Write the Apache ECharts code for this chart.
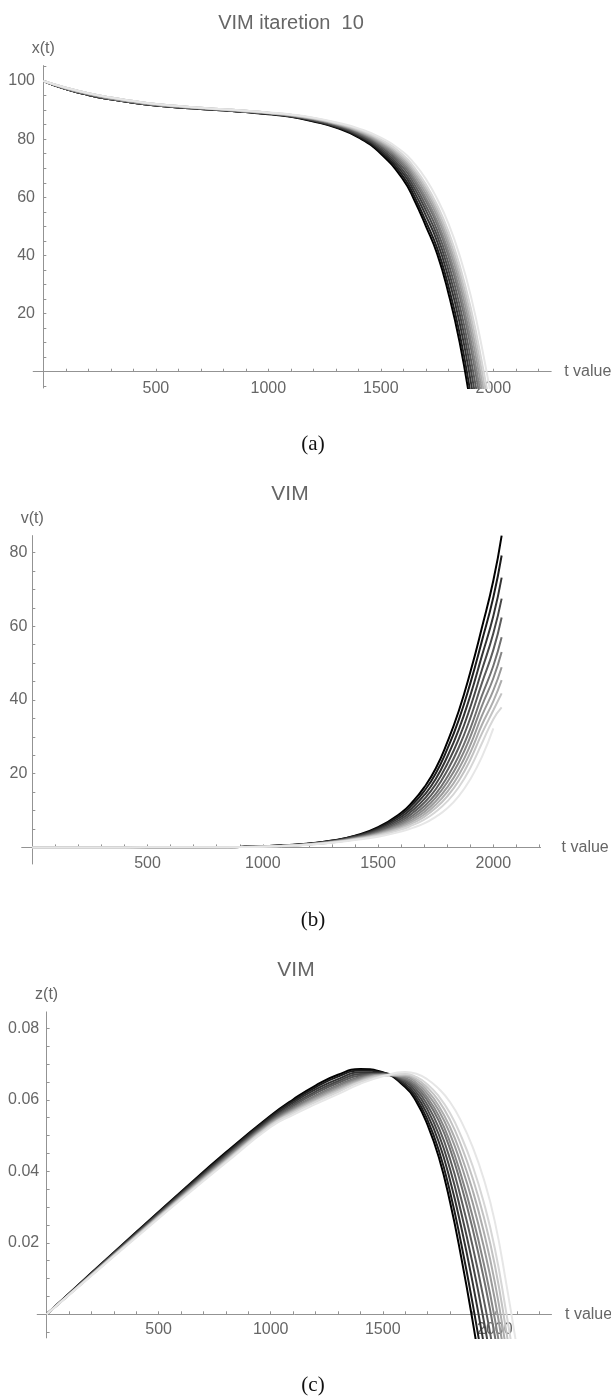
<!DOCTYPE html>
<html>
<head>
<meta charset="utf-8">
<title>VIM</title>
<script src="https://cdn.jsdelivr.net/npm/echarts@6.0.0/dist/echarts.min.js"></script>
<style>
  html, body { margin: 0; padding: 0; background: #fff; }
  #main { width: 611px; height: 1396px; }
</style>
</head>
<body>
<div id="main"></div>
<script>
// ---- (a) x(t) ----
var tA = [0, 100, 200, 300, 400, 500, 600, 700, 800, 900, 1000, 1100, 1200, 1300, 1400, 1500, 1600, 1650, 1700, 1750, 1800, 1850, 1900, 1950, 2000, 2050];
var x1 = [100, 97.2, 95.2, 93.7, 92.5, 91.6, 90.9, 90.4, 89.9, 89.3, 88.6, 87.7, 86.1, 84.0, 80.6, 75.0, 66.0, 58.8, 50.1, 40.6, 27.1, 10.2, -12, -38, -65, -95];
var x2 = [100, 97.2, 95.2, 93.7, 92.5, 91.6, 90.9, 90.4, 89.9, 89.3, 88.7, 87.8, 86.2, 84.2, 80.9, 75.6, 67.0, 60.1, 51.7, 42.5, 29.5, 13.2, -8.2, -33.4, -59.8, -89];
var x3 = [100, 97.2, 95.2, 93.7, 92.5, 91.6, 90.9, 90.4, 89.9, 89.3, 88.7, 87.9, 86.4, 84.4, 81.3, 76.2, 68.1, 61.6, 53.7, 44.8, 32.4, 16.8, -3.6, -27.9, -53.6, -82];
var x4 = [100, 97.2, 95.2, 93.7, 92.5, 91.6, 90.9, 90.4, 89.9, 89.3, 88.8, 88.0, 86.5, 84.6, 81.6, 76.8, 69.1, 63.0, 55.5, 46.8, 35.0, 20.0, 0.5, -22.8, -47.8, -75.5];
var x5 = [100, 97.45, 95.5, 94.0, 92.8, 91.85, 91.15, 90.6, 90.1, 89.55, 88.9, 88.0, 86.7, 84.8, 81.9, 77.4, 70.1, 64.3, 57.1, 48.7, 37.4, 23.0, 4.3, -18.2, -42.6, -69.6];
var x6 = [100, 97.45, 95.5, 94.0, 92.8, 91.85, 91.15, 90.6, 90.1, 89.55, 88.9, 88.1, 86.8, 85.0, 82.2, 77.9, 71.0, 65.5, 58.7, 50.6, 39.8, 26.0, 8.1, -13.6, -37.4, -63.7];
var x7 = [100, 97.45, 95.5, 94.0, 92.8, 91.85, 91.15, 90.6, 90.1, 89.55, 89.0, 88.2, 86.9, 85.1, 82.5, 78.3, 71.7, 66.4, 59.8, 51.9, 41.4, 28.1, 10.8, -10.4, -33.8, -59.6];
var x8 = [100, 97.45, 95.5, 94.0, 92.8, 91.85, 91.15, 90.6, 90.1, 89.55, 89.0, 88.2, 87.0, 85.2, 82.7, 78.7, 72.5, 67.4, 61.1, 53.5, 43.4, 30.5, 13.8, -6.7, -29.6, -54.9];
var x9 = [100, 97.7, 95.8, 94.3, 93.1, 92.1, 91.4, 90.8, 90.3, 89.8, 89.1, 88.3, 87.1, 85.4, 82.9, 79.1, 73.1, 68.3, 62.3, 54.8, 45.0, 32.6, 16.5, -3.5, -26, -50.8];
var x10 = [100, 97.7, 95.8, 94.3, 93.1, 92.1, 91.4, 90.8, 90.3, 89.8, 89.1, 88.4, 87.2, 85.5, 83.1, 79.5, 73.8, 69.2, 63.4, 56.1, 46.7, 34.6, 19.2, -0.3, -22.4, -46.6];
var x11 = [100, 97.7, 95.8, 94.3, 93.1, 92.1, 91.4, 90.8, 90.3, 89.8, 89.1, 88.4, 87.3, 85.6, 83.4, 79.9, 74.5, 70.1, 64.5, 57.4, 48.4, 36.7, 21.8, 2.9, -18.7, -42.5];
var x12 = [100, 97.7, 95.8, 94.3, 93.1, 92.1, 91.4, 90.8, 90.3, 89.8, 89.2, 88.5, 87.4, 85.8, 83.7, 80.5, 75.5, 71.5, 66.3, 59.5, 51.0, 40.0, 26, 8, -13, -36];

// ---- (b) v(t) ----
var tB = [0, 200, 400, 600, 800, 900, 1000, 1100, 1200, 1300, 1400, 1500, 1600, 1650, 1700, 1750, 1800, 1850, 1900, 1950, 2000, 2036];
var v1 = [0, 0, 0.01, 0.03, 0.08, 0.14, 0.30, 0.60, 1.05, 1.85, 3.2, 5.5, 9.4, 12.4, 16.3, 21.4, 28.5, 37, 47.5, 59.5, 72.4, 84.6];
var v2 = [0, 0, 0.01, 0.03, 0.08, 0.14, 0.29, 0.58, 1.02, 1.79, 3.08, 5.23, 8.87, 11.67, 15.29, 20.05, 26.66, 34.62, 44.51, 55.9, 67.9, 79.2];
var v3 = [0, 0, 0.01, 0.03, 0.07, 0.13, 0.28, 0.56, 0.98, 1.72, 2.94, 4.93, 8.29, 10.85, 14.16, 18.54, 24.6, 31.96, 41.18, 51.9, 62.8, 73.2];
var v4 = [0, 0, 0.01, 0.03, 0.07, 0.13, 0.27, 0.53, 0.95, 1.65, 2.81, 4.65, 7.73, 10.08, 13.1, 17.12, 22.65, 29.45, 38.02, 48.06, 58.1, 67.5];
var v5 = [0, 0, 0.01, 0.03, 0.07, 0.12, 0.26, 0.51, 0.92, 1.59, 2.69, 4.39, 7.22, 9.36, 12.11, 15.79, 20.84, 27.11, 35.09, 44.52, 53.6, 62.4];
var v6 = [0, 0, 0.01, 0.03, 0.07, 0.12, 0.25, 0.49, 0.89, 1.53, 2.57, 4.13, 6.72, 8.67, 11.15, 14.51, 19.08, 24.85, 32.25, 41.09, 49.3, 57.0];
var v7 = [0, 0, 0.01, 0.02, 0.07, 0.12, 0.24, 0.48, 0.87, 1.49, 2.48, 3.93, 6.32, 8.11, 10.38, 13.49, 17.69, 23.05, 29.98, 38.36, 45.9, 53.0];
var v8 = [0, 0, 0.01, 0.02, 0.07, 0.11, 0.23, 0.46, 0.85, 1.44, 2.38, 3.73, 5.93, 7.56, 9.63, 12.48, 16.31, 21.27, 27.75, 35.67, 42.6, 48.9];
var v9 = [0, 0, 0.01, 0.02, 0.06, 0.11, 0.23, 0.45, 0.82, 1.40, 2.30, 3.55, 5.57, 7.07, 8.94, 11.56, 15.06, 19.65, 25.72, 33.22, 39.7, 45.4];
var v10 = [0, 0, 0.01, 0.02, 0.06, 0.11, 0.22, 0.44, 0.80, 1.36, 2.22, 3.37, 5.23, 6.59, 8.28, 10.68, 13.86, 18.1, 23.78, 30.87, 37.2, 41.8];
var v11 = [0, 0, 0.01, 0.02, 0.06, 0.10, 0.21, 0.42, 0.78, 1.31, 2.13, 3.17, 4.84, 6.05, 7.53, 9.68, 12.48, 16.33, 21.54, 28.18, 34.8, 38.0];
var v12 = [0, 0, 0.01, 0.02, 0.06, 0.10, 0.20, 0.40, 0.75, 1.25, 2.0, 2.9, 4.3, 5.3, 6.5, 8.3, 10.6, 13.9, 18.5, 24.5, 32.3, null];

// ---- (c) z(t) ----
var tC = [0, 200, 400, 600, 800, 1000, 1100, 1200, 1300, 1400, 1500, 1600, 1650, 1700, 1750, 1800, 1850, 1900, 1950, 2000, 2050, 2100];
var z1 = [0, .0116, .0230, .0343, .0453, .0556, .0601, .0640, .0670, .0686, .0677, .0636, .0595, .0530, .0440, .0315, .0160, -.0015, -.0210, -.0420, -.0650, -.0900];
var z2 = [0, .0115, .0229, .0341, .0450, .0553, .0597, .0635, .0665, .0682, .0676, .0640, .0603, .0543, .0459, .0343, .0198, .0034, -.0151, -.0352, -.0576, -.0820];
var z3 = [0, .0114, .0227, .0338, .0447, .0549, .0592, .0629, .0658, .0677, .0675, .0645, .0612, .0558, .0482, .0376, .0244, .0092, -.0080, -.0270, -.0487, -.0724];
var z4 = [0, .0113, .0225, .0336, .0443, .0545, .0587, .0623, .0652, .0672, .0673, .0650, .0621, .0572, .0503, .0407, .0285, .0145, -.0015, -.0196, -.0406, -.0636];
var z5 = [0, .0113, .0224, .0334, .0441, .0542, .0583, .0618, .0647, .0668, .0672, .0654, .0629, .0585, .0522, .0435, .0323, .0194, .0044, -.0128, -.0332, -.0556];
var z6 = [0, .0112, .0222, .0331, .0438, .0539, .0578, .0612, .0641, .0664, .0671, .0658, .0636, .0597, .0541, .0463, .0361, .0242, .0103, -.0060, -.0258, -.0476];
var z7 = [0, .0111, .0221, .0330, .0436, .0537, .0575, .0609, .0638, .0661, .0670, .0661, .0642, .0606, .0555, .0482, .0388, .0276, .0144, -.0012, -.0206, -.0420];
var z8 = [0, .0111, .0220, .0328, .0433, .0534, .0572, .0605, .0633, .0658, .0670, .0665, .0648, .0616, .0570, .0505, .0418, .0315, .0191, .0042, -.0147, -.0356];
var z9 = [0, .0110, .0219, .0327, .0431, .0532, .0569, .0601, .0630, .0655, .0669, .0668, .0654, .0625, .0583, .0524, .0445, .0349, .0233, .0090, -.0095, -.0300];
var z10 = [0, .0109, .0218, .0325, .0429, .0530, .0566, .0597, .0626, .0652, .0668, .0670, .0659, .0634, .0597, .0544, .0472, .0383, .0274, .0138, -.0043, -.0244];
var z11 = [0, .0109, .0217, .0323, .0427, .0528, .0563, .0594, .0622, .0650, .0667, .0673, .0664, .0643, .0610, .0563, .0498, .0417, .0315, .0185, .0009, -.0188];
var z12 = [0, .0108, .0215, .0321, .0424, .0524, .0558, .0588, .0616, .0645, .0666, .0678, .0673, .0657, .0631, .0594, .0540, .0470, .0380, .0260, .0090, -.0100];

// 刻度与刻度标签
var tTicks = [100, 200, 300, 400, 500, 600, 700, 800, 900, 1000, 1100, 1200, 1300, 1400, 1500, 1600, 1700, 1800, 1900, 2000, 2100, 2200];
var tLabels = [500, 1000, 1500, 2000];
var xTicks = [-5, 5, 10, 15, 20, 25, 30, 35, 40, 45, 50, 55, 60, 65, 70, 75, 80, 85, 90, 95, 100, 105];
var xLabels = [20, 40, 60, 80, 100];
var vTicks = [5, 10, 15, 20, 25, 30, 35, 40, 45, 50, 55, 60, 65, 70, 75, 80];
var vLabels = [20, 40, 60, 80];
var zTicks = [-0.005, 0.005, 0.01, 0.015, 0.02, 0.025, 0.03, 0.035, 0.04, 0.045, 0.05, 0.055, 0.06, 0.065, 0.07, 0.075, 0.08];
var zLabels = [0.02, 0.04, 0.06, 0.08];

// 迭代曲线颜色：深 -> 浅
var grays = ['#000000', '#1c1c1c', '#333333', '#474747', '#5c5c5c', '#707070', '#858585', '#999999', '#adadad', '#c2c2c2', '#d6d6d6', '#e6e6e6'];

var FONT = "'Liberation Sans', Arial, sans-serif";
var SERIF = "'Liberation Serif', 'Times New Roman', serif";
var TEXT = '#666666';
var AXIS = '#939393';

function toPairs(ts, vs) {
  var out = [];
  for (var i = 0; i < ts.length; i++) {
    if (vs[i] !== null && vs[i] !== undefined) out.push([ts[i], vs[i]]);
  }
  return out;
}

function fmt(v) {
  return String(Math.round(v * 10000) / 10000);
}

// 标签位置以网格边为基准，margin 取负值贴近零轴
function makeX(gridIndex, min, max, nameGap, labelMargin) {
  return {
    type: 'value', gridIndex: gridIndex, min: min, max: max,
    name: 't value', nameLocation: 'end', nameGap: nameGap,
    nameTextStyle: { color: TEXT, fontSize: 16, fontFamily: FONT },
    axisLine: { show: true, onZero: true, lineStyle: { color: AXIS, width: 1 } },
    axisTick: { show: true, inside: true, length: 3, customValues: tTicks, lineStyle: { color: AXIS } },
    axisLabel: { customValues: tLabels, color: TEXT, fontSize: 16, fontFamily: FONT, margin: labelMargin, formatter: fmt },
    splitLine: { show: false }
  };
}

function makeY(gridIndex, min, max, name, ticks, labels, labelMargin) {
  return {
    type: 'value', gridIndex: gridIndex, min: min, max: max,
    name: name, nameLocation: 'end', nameGap: 9,
    nameTextStyle: { color: TEXT, fontSize: 16, fontFamily: FONT },
    axisLine: { show: true, onZero: true, lineStyle: { color: AXIS, width: 1 } },
    axisTick: { show: true, inside: true, length: 3, customValues: ticks, lineStyle: { color: AXIS } },
    axisLabel: { customValues: labels, color: TEXT, fontSize: 16, fontFamily: FONT, margin: labelMargin, formatter: fmt },
    splitLine: { show: false }
  };
}

var series = [];
function addPanel(idx, ts, curves) {
  curves.forEach(function (vs, i) {
    series.push({
      type: 'line', xAxisIndex: idx, yAxisIndex: idx,
      data: toPairs(ts, vs),
      showSymbol: false, symbol: 'none',
      smooth: 0.5,
      clip: true, silent: true,
      lineStyle: { color: grays[i], width: 2 }
    });
  });
}

addPanel(0, tA, [x1, x2, x3, x4, x5, x6, x7, x8, x9, x10, x11, x12]);
addPanel(1, tB, [v1, v2, v3, v4, v5, v6, v7, v8, v9, v10, v11, v12]);
addPanel(2, tC, [z1, z2, z3, z4, z5, z6, z7, z8, z9, z10, z11, z12]);

function label(text, x, y, font, fill) {
  return {
    type: 'text', x: x, y: y, silent: true,
    style: { text: text, font: font, fill: fill, align: 'center', verticalAlign: 'middle', textAlign: 'center', textVerticalAlign: 'middle' }
  };
}

var chart = echarts.init(document.getElementById('main'));
chart.setOption({
  animation: false,
  backgroundColor: '#ffffff',
  grid: [
    { left: 33.2, top: 65.6, width: 518, height: 322.4, outerBoundsMode: 'none' },
    { left: 21.7, top: 535.6, width: 518.9, height: 328.4, outerBoundsMode: 'none' },
    { left: 37.2, top: 1011.9, width: 514.3, height: 326, outerBoundsMode: 'none' }
  ],
  xAxis: [
    makeX(0, -45, 2257, 13, -7),
    makeX(1, -46, 2205, 21, -8.5),
    makeX(2, -42, 2253, 13.5, -16)
  ],
  yAxis: [
    makeY(0, -5.6, 105.3, 'x(t)', xTicks, xLabels, -1.8),
    makeY(1, -4.5, 84.6, 'v(t)', vTicks, vLabels, -5.7),
    makeY(2, -0.0066, 0.0846, 'z(t)', zTicks, zLabels, -2)
  ],
  graphic: [
    label('VIM itaretion  10', 291, 23, "20px " + FONT, TEXT),
    label('VIM', 290, 494, "21px " + FONT, TEXT),
    label('VIM', 296, 970, "21px " + FONT, TEXT),
    label('(a)', 313, 444, "21px " + SERIF, '#111111'),
    label('(b)', 313, 920, "21px " + SERIF, '#111111'),
    label('(c)', 313, 1385, "21px " + SERIF, '#111111')
  ],
  series: series
});
</script>
</body>
</html>
